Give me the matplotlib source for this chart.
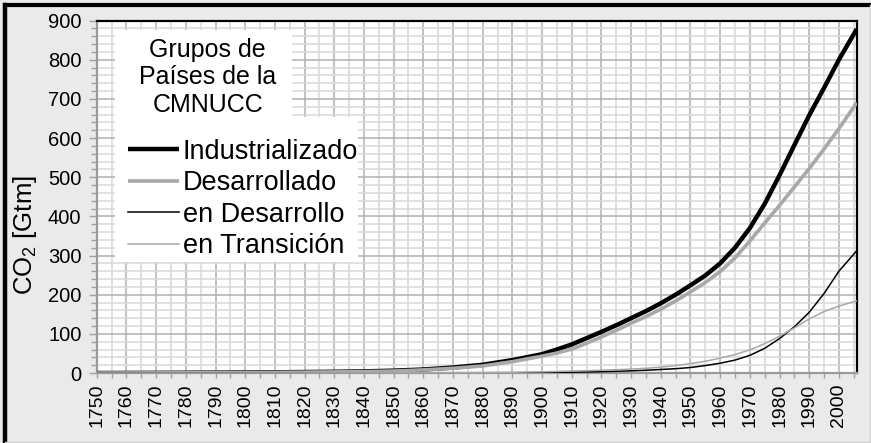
"""Cumulative CO2 emissions by UNFCCC country group."""

import matplotlib
matplotlib.use('Agg')
import matplotlib.pyplot as plt
from matplotlib.patches import Rectangle
from matplotlib.lines import Line2D
from matplotlib.ticker import MultipleLocator

YEARS = [1750, 1760, 1770, 1780, 1790, 1800, 1810, 1820, 1830, 1840,
         1850, 1860, 1870, 1880, 1890, 1900, 1905, 1910, 1915, 1920,
         1925, 1930, 1935, 1940, 1945, 1950, 1955, 1960, 1965, 1970,
         1975, 1980, 1985, 1990, 1995, 2000, 2006]

INDUSTRIALIZADO = [0, 0.2, 0.4, 0.7, 1.0, 1.4, 1.9, 2.5, 3.2, 4.2,
                   6, 9, 14, 21, 33, 48, 60, 73, 89, 105,
                   122, 140, 158, 178, 200, 224, 249, 280, 320, 370,
                   432, 505, 582, 658, 728, 800, 878]

DESARROLLADO = [0, 0.2, 0.4, 0.6, 0.9, 1.2, 1.7, 2.2, 2.8, 3.6,
                5, 8, 12, 18, 29, 43, 51, 61, 76, 92,
                109, 127, 144, 163, 184, 207, 231, 259, 294, 337,
                383, 428, 475, 522, 572, 624, 690]

EN_DESARROLLO = [0, 0, 0, 0, 0, 0, 0, 0, 0, 0,
                 0, 0, 0.1, 0.2, 0.4, 1, 1.5, 2, 2.7, 3.5,
                 4.5, 5.5, 7, 9, 11, 14, 19, 25, 33, 45,
                 63, 88, 118, 155, 203, 260, 312]

EN_TRANSICION = [0, 0, 0, 0, 0, 0.1, 0.2, 0.3, 0.4, 0.5,
                 0.6, 0.8, 1, 1.3, 2, 3, 4, 5, 6, 7,
                 8.5, 10, 12, 15, 19, 24, 30, 38, 47, 59,
                 75, 94, 115, 138, 157, 171, 184]

LABELS = ['Industrializado', 'Desarrollado', 'en Desarrollo', 'en Transición']
TITLE_LINES = ['Grupos de', 'Países de la', 'CMNUCC']


def set_style() -> None:
    plt.rcParams['font.family'] = ['Liberation Sans', 'DejaVu Sans']
    plt.rcParams['mathtext.fontset'] = 'custom'
    plt.rcParams['mathtext.rm'] = 'Liberation Sans'
    plt.rcParams['mathtext.it'] = 'Liberation Sans:italic'


def main():
    set_style()

    fig = plt.figure(figsize=(8.71, 4.43), dpi=100, facecolor='#eaeaea')
    ax = fig.add_axes([0.1111, 0.158, 0.8725, 0.7957])
    ax.set_facecolor('white')

    # outer frame
    fig.add_artist(Line2D([0.0052, 0.0052], [0, 0.988], transform=fig.transFigure,
                          color='black', lw=3.2))
    fig.add_artist(Line2D([0.0052, 1.0], [0.988, 0.988], transform=fig.transFigure,
                          color='black', lw=3.0))
    fig.add_artist(Line2D([0.9985, 0.9985], [0, 0.988], transform=fig.transFigure,
                          color='#cfcfcf', lw=1.0))
    fig.add_artist(Line2D([0.0052, 1.0], [0.003, 0.003], transform=fig.transFigure,
                          color='#cfcfcf', lw=1.0))

    # data
    ax.plot(YEARS, INDUSTRIALIZADO, color='black', lw=3.2, label=LABELS[0],
            solid_capstyle='butt', zorder=5)
    ax.plot(YEARS, DESARROLLADO, color='#a8a8a8', lw=2.6, label=LABELS[1],
            solid_capstyle='butt', zorder=6)
    ax.plot(YEARS, EN_DESARROLLO, color='black', lw=1.1, label=LABELS[2], zorder=7)
    ax.plot(YEARS, EN_TRANSICION, color='#a8a8a8', lw=1.1, label=LABELS[3], zorder=7)

    ax.set_xlim(1750, 2006)
    ax.set_ylim(0, 900)

    ax.xaxis.set_major_locator(MultipleLocator(10))
    ax.xaxis.set_minor_locator(MultipleLocator(5))
    ax.yaxis.set_major_locator(MultipleLocator(100))
    ax.yaxis.set_minor_locator(MultipleLocator(20))

    ax.grid(which='major', color='#b0b0b0', lw=1.1, zorder=0)
    ax.grid(which='minor', color='#d9d9d9', lw=1.1, zorder=0)
    ax.set_axisbelow(True)

    ax.tick_params(axis='x', which='both', direction='out', color='#a0a0a0',
                   length=3.5, width=1.0, labelsize=14, pad=4, labelrotation=90)
    ax.tick_params(axis='y', which='major', direction='out', color='#a0a0a0',
                   length=6, width=1.0, labelsize=14.5, pad=5)
    ax.tick_params(axis='y', which='minor', direction='out', color='#a0a0a0',
                   length=4, width=1.0)

    for side in ['top', 'right']:
        ax.spines[side].set_color('black')
        ax.spines[side].set_linewidth(1.6)
    for side in ['left', 'bottom']:
        ax.spines[side].set_color('#9a9a9a')
        ax.spines[side].set_linewidth(1.6)

    ax.set_ylabel('CO$_2$ [Gtm]', fontsize=18.5)
    ax.yaxis.set_label_coords(-0.076, 0.39)

    # white boxes behind title and legend
    ax.add_patch(Rectangle((0.024, 0.726), 0.233, 0.247, transform=ax.transAxes,
                           facecolor='white', edgecolor='none', zorder=3))
    ax.add_patch(Rectangle((0.024, 0.315), 0.32, 0.411, transform=ax.transAxes,
                           facecolor='white', edgecolor='none', zorder=3))

    for line, ypos in zip(TITLE_LINES, [0.897, 0.820, 0.741]):
        ax.text(0.146, ypos, line, transform=ax.transAxes, ha='center',
                va='baseline', fontsize=18, zorder=8)

    leg = ax.legend(loc='center left', bbox_to_anchor=(0.041, 0.494),
                    frameon=False, fontsize=19.5, handlelength=1.9,
                    handletextpad=0.12, labelspacing=0.2, borderpad=0,
                    borderaxespad=0)
    leg.set_zorder(9)

    plt.savefig('out.png', dpi=100, facecolor=fig.get_facecolor())
    plt.close()


if __name__ == '__main__':
    main()
